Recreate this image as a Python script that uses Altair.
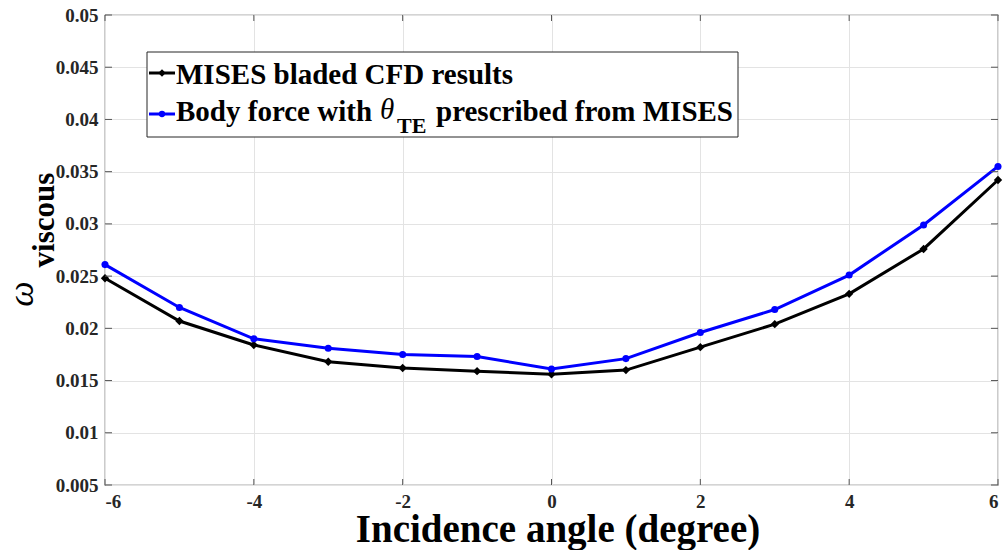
import altair as alt
import pandas as pd

# ---- data ----
incidence = [-6, -5, -4, -3, -2, -1, 0, 1, 2, 3, 4, 5, 6]
mises = [0.0248, 0.0207, 0.0184, 0.0168, 0.0162, 0.0159, 0.0156, 0.0160, 0.0182, 0.0204, 0.0233, 0.0276, 0.0342]
body_force = [0.0261, 0.0220, 0.0190, 0.0181, 0.0175, 0.0173, 0.0161, 0.0171, 0.0196, 0.0218, 0.0251, 0.0299, 0.0355]
x_ticks = [-6, -4, -2, 0, 2, 4, 6]
y_ticks = [0.005, 0.01, 0.015, 0.02, 0.025, 0.03, 0.035, 0.04, 0.045, 0.05]

FONT = "Liberation Serif"
W, H = 893, 470
LEFT, TOP = 105, 15

df = pd.DataFrame({"x": incidence, "mises": mises, "bf": body_force})
one = pd.DataFrame({"k": [0]})

xscale = alt.Scale(domain=[-6, 6], nice=False, zero=False)
yscale = alt.Scale(domain=[0.005, 0.05], nice=False, zero=False)

xaxis = alt.Axis(values=x_ticks, labelExpr="datum.value + ''", title=None,
                 grid=True, gridColor="#e3e3e3", ticks=False, domain=False,
                 labelFont=FONT, labelFontSize=19, labelFontWeight="bold",
                 labelColor="#262626", labelPadding=7)
yaxis = alt.Axis(values=y_ticks, labelExpr="datum.value + ''", title=None,
                 grid=True, gridColor="#e3e3e3", ticks=False, domain=False,
                 labelFont=FONT, labelFontSize=19, labelFontWeight="bold",
                 labelColor="#262626", labelPadding=7)

base = alt.Chart(df)

black_line = base.mark_line(
    color="black", strokeWidth=3,
    point=alt.OverlayMarkDef(shape="diamond", size=70, filled=True, color="black")
).encode(
    x=alt.X("x:Q", scale=xscale, axis=xaxis),
    y=alt.Y("mises:Q", scale=yscale, axis=yaxis),
)
blue_line = base.mark_line(
    color="#0000ff", strokeWidth=3,
    point=alt.OverlayMarkDef(shape="circle", size=50, filled=True, color="#0000ff")
).encode(
    x=alt.X("x:Q", scale=xscale),
    y=alt.Y("bf:Q", scale=yscale),
)

# inward tick marks on all four sides
xt = pd.DataFrame({"v": x_ticks})
yt = pd.DataFrame({"v": y_ticks})
tick_color = "#555555"
xt_bottom = alt.Chart(xt).mark_rule(color=tick_color).encode(
    x=alt.X("v:Q", scale=xscale), y=alt.value(H), y2=alt.value(H - 6))
xt_top = alt.Chart(xt).mark_rule(color=tick_color).encode(
    x=alt.X("v:Q", scale=xscale), y=alt.value(0), y2=alt.value(6))
yt_left = alt.Chart(yt).mark_rule(color=tick_color).encode(
    y=alt.Y("v:Q", scale=yscale), x=alt.value(0), x2=alt.value(7))
yt_right = alt.Chart(yt).mark_rule(color=tick_color).encode(
    y=alt.Y("v:Q", scale=yscale), x=alt.value(W), x2=alt.value(W - 7))


def px(x):
    return x - LEFT


def py(y):
    return y - TOP


legend_box = alt.Chart(one).mark_rect(fill="white", stroke="#262626", strokeWidth=1).encode(
    x=alt.value(px(147)), x2=alt.value(px(738)), y=alt.value(py(52)), y2=alt.value(py(137)))
leg_line1 = alt.Chart(one).mark_rule(color="black", strokeWidth=3).encode(
    x=alt.value(px(149)), x2=alt.value(px(175)), y=alt.value(py(73)))
leg_pt1 = alt.Chart(one).mark_point(shape="diamond", size=55, filled=True, color="black", opacity=1).encode(
    x=alt.value(px(162)), y=alt.value(py(73)))
leg_line2 = alt.Chart(one).mark_rule(color="#0000ff", strokeWidth=3).encode(
    x=alt.value(px(149)), x2=alt.value(px(175)), y=alt.value(py(114)))
leg_pt2 = alt.Chart(one).mark_point(shape="circle", size=40, filled=True, color="#0000ff", opacity=1).encode(
    x=alt.value(px(162)), y=alt.value(py(114)))


def txt(s, x, y, size, weight="bold", style="normal", align="left", angle=0, baseline="alphabetic"):
    kw = dict(text=s, font=FONT, fontSize=size, fontWeight=weight, fontStyle=style,
              align=align, baseline=baseline, color="black")
    if angle:
        kw["angle"] = angle
    return alt.Chart(one).mark_text(**kw).encode(x=alt.value(x), y=alt.value(y))


leg_t1 = txt("MISES bladed CFD results", px(176), py(84), 29)
leg_t2a = txt("Body force with", px(176), py(121), 29)
leg_t2b = txt("θ", px(380), py(119), 29, weight="normal", style="italic")
leg_t2c = txt("TE", px(397), py(133), 22)
leg_t2d = txt("prescribed from MISES", px(436), py(121), 29)

x_title = txt("Incidence angle (degree)", px(558), py(542), 39, align="center")
y_title_w = txt("ω", px(33), py(294), 36, weight="normal", style="italic", align="center", angle=270)
y_title_v = txt("viscous", px(54), py(220), 31, align="center", angle=270)

chart = alt.layer(
    black_line, blue_line,
    xt_bottom, xt_top, yt_left, yt_right,
    legend_box, leg_line1, leg_pt1, leg_line2, leg_pt2,
    leg_t1, leg_t2a, leg_t2b, leg_t2c, leg_t2d,
    x_title, y_title_w, y_title_v,
).properties(
    width=W, height=H,
    autosize=alt.AutoSizeParams(type="none"),
    padding={"left": LEFT, "top": TOP, "right": 1004 - LEFT - W, "bottom": 550 - TOP - H},
    background="white",
).configure_view(stroke="#555555", strokeWidth=1.2)

chart.save("out.html", embed_options={"renderer": "svg", "actions": False})
